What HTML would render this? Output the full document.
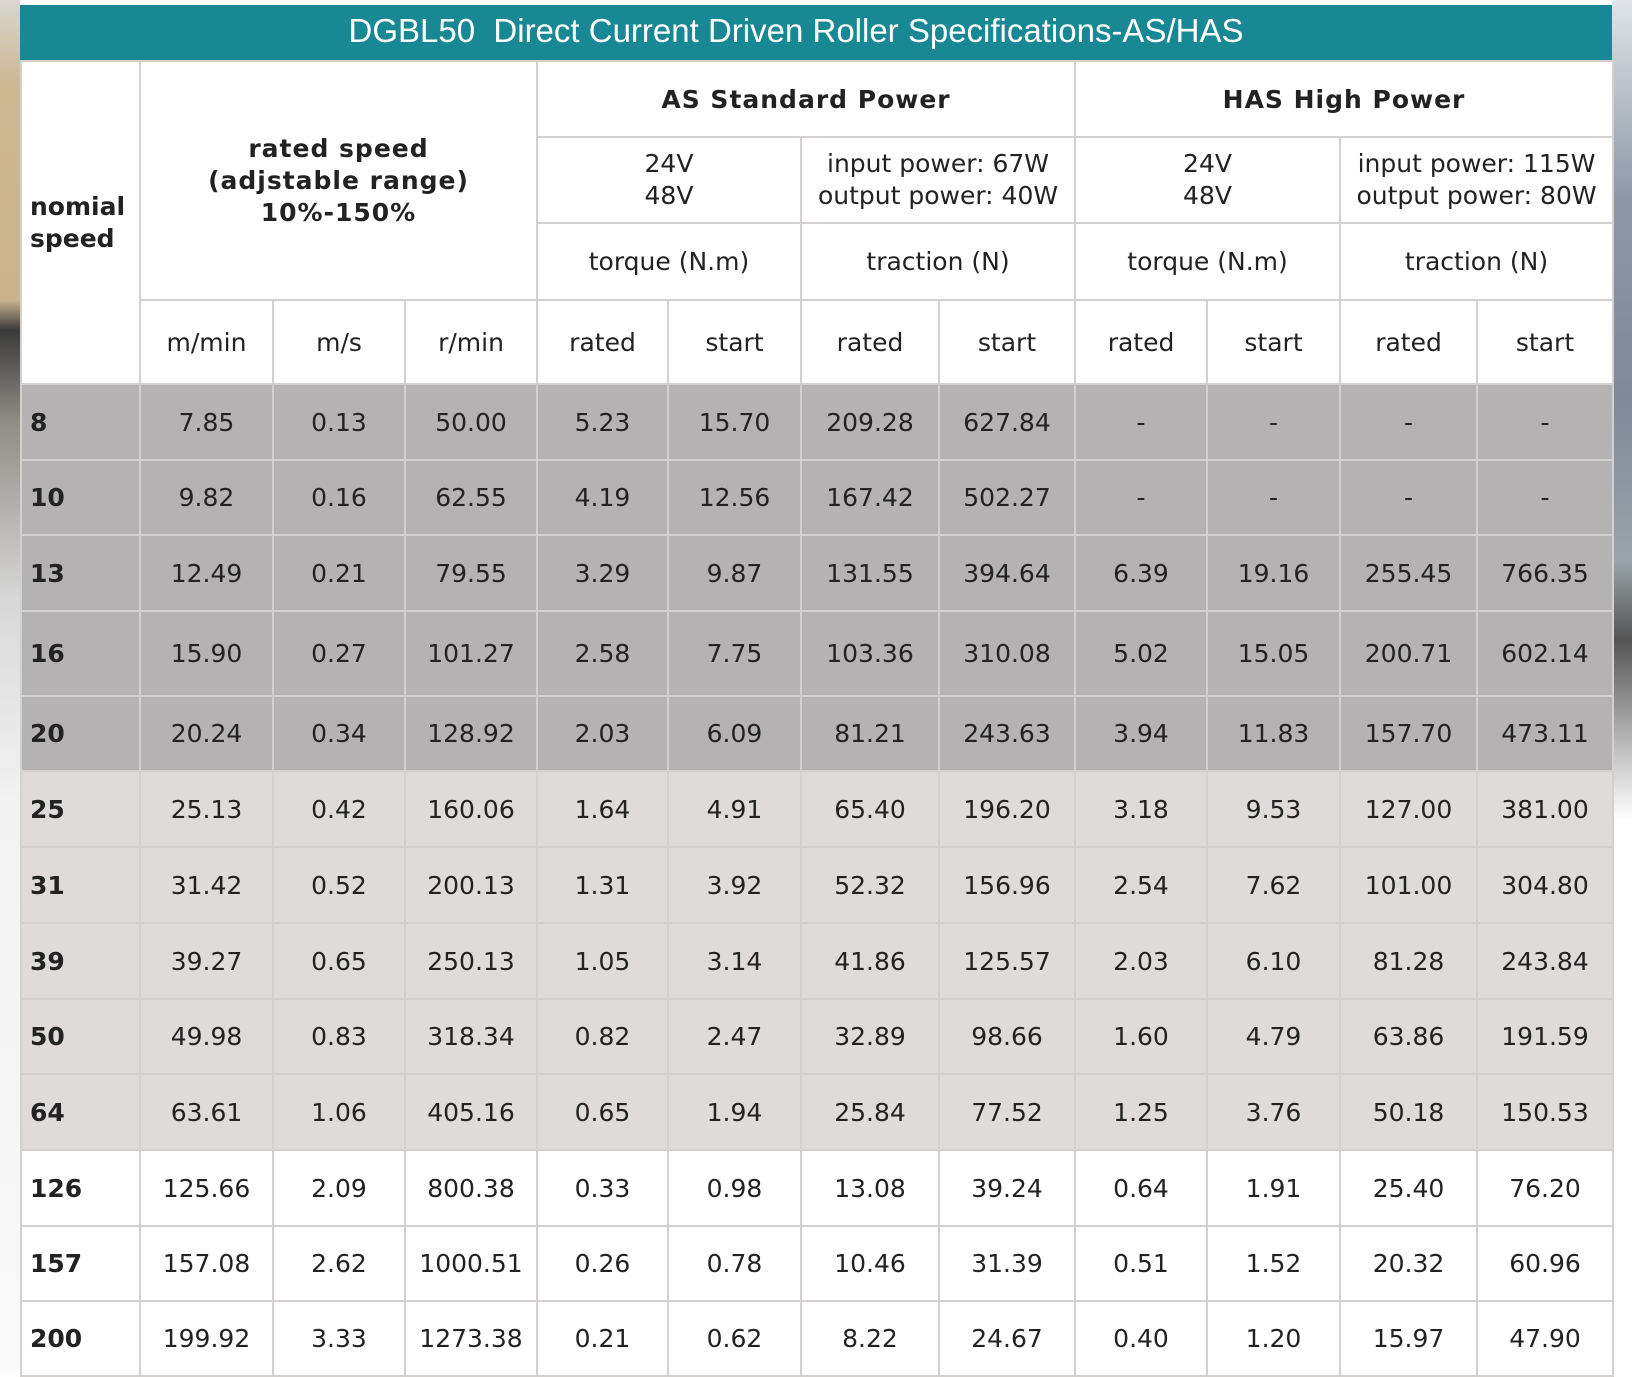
<!DOCTYPE html>
<html><head><meta charset="utf-8"><style>
html,body{margin:0;padding:0;}
body{width:1632px;height:1373px;position:relative;overflow:hidden;background:#fff;font-family:"DejaVu Sans","Liberation Sans",sans-serif;}
.lstrip{position:absolute;left:0;top:0;width:20px;height:1373px;background:linear-gradient(#d9d6cf 0,#cdb995 80px,#c9b48e 300px,#3a3a3a 330px,#8f8c86 420px,#d8d8d8 600px,#f2f2f2 800px,#fafafa 1373px);}
.rstrip{position:absolute;left:1612px;top:0;width:20px;height:1373px;background:linear-gradient(#e0e4ea 0,#8c97a6 200px,#7f8a98 400px,#9aa3ad 560px,#555 640px,#c9c9c9 760px,#fff 820px,#fff 1373px);}
.title{position:absolute;left:20px;top:5px;width:1592px;height:55px;background:#188894;color:#fff;font-family:"Liberation Sans",sans-serif;font-size:33px;line-height:52px;text-align:center;box-sizing:border-box;padding-right:40px;}
table{position:absolute;left:20px;top:60px;border-collapse:collapse;table-layout:fixed;width:1592px;}
td{border:2px solid #d3d0cf;text-align:center;vertical-align:middle;font-size:25px;color:#222;padding:0;white-space:nowrap;}
.b{font-weight:bold;}
.f{text-align:left;padding-left:8px;font-weight:bold;}
.h td{background:#fff;}
.d td{background:#b4b2b2;}
.l td{background:#dedbda;}
.w td{background:#fff;}
</style></head><body>
<div class="lstrip"></div><div class="rstrip"></div>
<div class="title">DGBL50&nbsp; Direct Current Driven Roller Specifications-AS/HAS</div>
<table>
<colgroup><col style="width:119px"><col style="width:133px"><col style="width:132px"><col style="width:132px"><col style="width:131px"><col style="width:133px"><col style="width:138px"><col style="width:136px"><col style="width:132px"><col style="width:133px"><col style="width:137px"><col style="width:136px"></colgroup>
<tr class="h" style="height:76px"><td rowspan="4" class="f" style="line-height:32px">nomial<br>speed</td><td rowspan="3" colspan="3" class="b" style="line-height:32px;letter-spacing:1px">rated speed<br>(adjstable range)<br>10%-150%</td><td colspan="4" class="b" style="letter-spacing:1px">AS Standard Power</td><td colspan="4" class="b" style="letter-spacing:1px">HAS High Power</td></tr>
<tr class="h" style="height:86px"><td colspan="2" style="line-height:32px">24V<br>48V</td><td colspan="2" style="line-height:32px">input power: 67W<br>output power: 40W</td><td colspan="2" style="line-height:32px">24V<br>48V</td><td colspan="2" style="line-height:32px">input power: 115W<br>output power: 80W</td></tr>
<tr class="h" style="height:77px"><td colspan="2">torque (N.m)</td><td colspan="2">traction (N)</td><td colspan="2">torque (N.m)</td><td colspan="2">traction (N)</td></tr>
<tr class="h" style="height:84px"><td>m/min</td><td>m/s</td><td>r/min</td><td>rated</td><td>start</td><td>rated</td><td>start</td><td>rated</td><td>start</td><td>rated</td><td>start</td></tr>
<tr class="d" style="height:76px"><td class="f">8</td><td>7.85</td><td>0.13</td><td>50.00</td><td>5.23</td><td>15.70</td><td>209.28</td><td>627.84</td><td>-</td><td>-</td><td>-</td><td>-</td></tr>
<tr class="d" style="height:75px"><td class="f">10</td><td>9.82</td><td>0.16</td><td>62.55</td><td>4.19</td><td>12.56</td><td>167.42</td><td>502.27</td><td>-</td><td>-</td><td>-</td><td>-</td></tr>
<tr class="d" style="height:76px"><td class="f">13</td><td>12.49</td><td>0.21</td><td>79.55</td><td>3.29</td><td>9.87</td><td>131.55</td><td>394.64</td><td>6.39</td><td>19.16</td><td>255.45</td><td>766.35</td></tr>
<tr class="d" style="height:85px"><td class="f">16</td><td>15.90</td><td>0.27</td><td>101.27</td><td>2.58</td><td>7.75</td><td>103.36</td><td>310.08</td><td>5.02</td><td>15.05</td><td>200.71</td><td>602.14</td></tr>
<tr class="d" style="height:75px"><td class="f">20</td><td>20.24</td><td>0.34</td><td>128.92</td><td>2.03</td><td>6.09</td><td>81.21</td><td>243.63</td><td>3.94</td><td>11.83</td><td>157.70</td><td>473.11</td></tr>
<tr class="l" style="height:76px"><td class="f">25</td><td>25.13</td><td>0.42</td><td>160.06</td><td>1.64</td><td>4.91</td><td>65.40</td><td>196.20</td><td>3.18</td><td>9.53</td><td>127.00</td><td>381.00</td></tr>
<tr class="l" style="height:76px"><td class="f">31</td><td>31.42</td><td>0.52</td><td>200.13</td><td>1.31</td><td>3.92</td><td>52.32</td><td>156.96</td><td>2.54</td><td>7.62</td><td>101.00</td><td>304.80</td></tr>
<tr class="l" style="height:76px"><td class="f">39</td><td>39.27</td><td>0.65</td><td>250.13</td><td>1.05</td><td>3.14</td><td>41.86</td><td>125.57</td><td>2.03</td><td>6.10</td><td>81.28</td><td>243.84</td></tr>
<tr class="l" style="height:75px"><td class="f">50</td><td>49.98</td><td>0.83</td><td>318.34</td><td>0.82</td><td>2.47</td><td>32.89</td><td>98.66</td><td>1.60</td><td>4.79</td><td>63.86</td><td>191.59</td></tr>
<tr class="l" style="height:76px"><td class="f">64</td><td>63.61</td><td>1.06</td><td>405.16</td><td>0.65</td><td>1.94</td><td>25.84</td><td>77.52</td><td>1.25</td><td>3.76</td><td>50.18</td><td>150.53</td></tr>
<tr class="w" style="height:76px"><td class="f">126</td><td>125.66</td><td>2.09</td><td>800.38</td><td>0.33</td><td>0.98</td><td>13.08</td><td>39.24</td><td>0.64</td><td>1.91</td><td>25.40</td><td>76.20</td></tr>
<tr class="w" style="height:75px"><td class="f">157</td><td>157.08</td><td>2.62</td><td>1000.51</td><td>0.26</td><td>0.78</td><td>10.46</td><td>31.39</td><td>0.51</td><td>1.52</td><td>20.32</td><td>60.96</td></tr>
<tr class="w" style="height:75px"><td class="f">200</td><td>199.92</td><td>3.33</td><td>1273.38</td><td>0.21</td><td>0.62</td><td>8.22</td><td>24.67</td><td>0.40</td><td>1.20</td><td>15.97</td><td>47.90</td></tr>
</table>
</body></html>
